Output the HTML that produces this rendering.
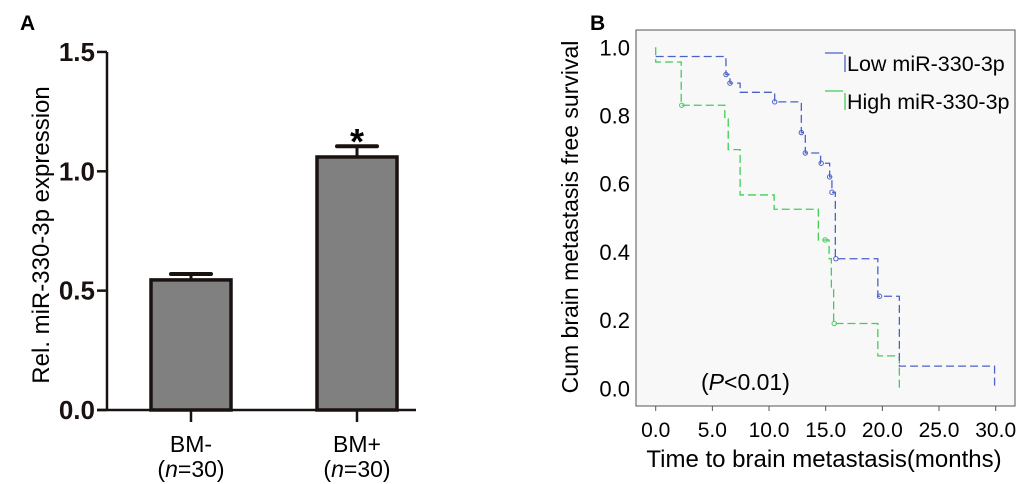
<!DOCTYPE html>
<html><head><meta charset="utf-8"><style>
body{margin:0;background:#fff;}
svg{display:block;font-family:"Liberation Sans",Arial,sans-serif;}
</style></head><body>
<svg id="fig" width="1020" height="484" viewBox="0 0 1020 484">
<text x="20" y="30" font-size="21" font-weight="bold">A</text>
<text x="590" y="30" font-size="21" font-weight="bold">B</text>
<g id="pa"></g>
<g id="pb"></g>
</svg>
<script>
const NS="http://www.w3.org/2000/svg";
// Panel A data
const barCats=["BM-","BM+"];
const barVals=[0.545,1.06];
const barErr=[0.025,0.045];
const barTicks=[0,0.5,1.0,1.5];
const barTickLabels=["0.0","0.5","1.0","1.5"];
// Panel B data
const lowStart=0.973;
const lowT=[6.2,6.55,7.45,10.5,12.85,13.2,14.55,15.35,15.55,15.85,19.6,21.5,29.9];
const lowS=[0.92,0.895,0.868,0.84,0.75,0.69,0.66,0.62,0.575,0.38,0.27,0.065,0.0];
const lowCensT=[6.2,6.55,10.5,12.85,13.2,14.6,15.35,15.55,15.9,19.75];
const lowCensS=[0.92,0.895,0.84,0.75,0.69,0.66,0.62,0.575,0.38,0.27];
const highStart=1.0;
const highT=[0,2.25,6.1,6.4,7.45,10.45,14.35,15.3,15.5,15.7,19.6,21.5];
const highS=[0.957,0.83,0.79,0.70,0.567,0.525,0.435,0.38,0.29,0.19,0.095,0.0];
const highCensT=[2.3,14.95,15.75];
const highCensS=[0.83,0.435,0.19];
const xTicks=[0,5,10,15,20,25,30];
const xTickLabels=["0.0","5.0","10.0","15.0","20.0","25.0","30.0"];
const yTicks=[0,0.2,0.4,0.6,0.8,1.0];
const yTickLabels=["0.0","0.2","0.4","0.6","0.8","1.0"];

function mk(tag,attrs,parent,text){const e=document.createElementNS(NS,tag);for(const k in attrs)e.setAttribute(k,attrs[k]);if(text!==undefined)e.textContent=text;parent.appendChild(e);return e;}

// Panel A
const pa=document.getElementById('pa');
const ay=v=>410-v*238.7;
const bx=[191,357];
let e;
e=mk('line',{x1:107,y1:52,x2:107,y2:410,stroke:'#1a1210','stroke-width':2.5},pa);


e=mk('line',{x1:97,y1:410,x2:416,y2:410,stroke:'#1a1210','stroke-width':2.5},pa);


barTicks.forEach((t,i)=>{
  mk('line',{x1:97,y1:ay(t),x2:107,y2:ay(t),stroke:'#1a1210','stroke-width':2.5},pa);
  e=mk('text',{x:95,y:ay(t)+9,'font-size':26,'font-weight':'bold','text-anchor':'end',fill:'#1a1210'},pa,barTickLabels[i]);
  
  
});
e=mk('text',{x:0,y:0,'font-size':24,'text-anchor':'middle',transform:'translate(49,235) rotate(-90)'},pa,'Rel. miR-330-3p expression');


barVals.forEach((v,i)=>{
  const cx=bx[i];
  e=mk('rect',{x:cx-40,y:ay(v),width:80,height:410-ay(v),fill:'#808080',stroke:'#1a1210','stroke-width':3.5},pa);
  
  
  const top=ay(v+barErr[i]);
  mk('line',{x1:cx,y1:ay(v),x2:cx,y2:top,stroke:'#1a1210','stroke-width':3},pa);
  e=mk('line',{x1:cx-20,y1:top,x2:cx+20,y2:top,stroke:'#1a1210','stroke-width':4,'stroke-linecap':'round'},pa);
  
  
  mk('line',{x1:cx,y1:410,x2:cx,y2:422,stroke:'#1a1210','stroke-width':2.5},pa);
  e=mk('text',{x:cx,y:452,'font-size':23,'text-anchor':'middle'},pa,barCats[i]);
  
  
  const t=mk('text',{x:cx,y:477,'font-size':23,'text-anchor':'middle'},pa);
  t.innerHTML='(<tspan font-style="italic">n</tspan>=30)';
});
e=mk('text',{x:bx[1],y:154,'font-size':36,'font-weight':'bold','text-anchor':'middle'},pa,'*');



// Panel B
const pb=document.getElementById('pb');
const sx=t=>655.7+t*11.333;
const sy=s=>388.3-s*341;
e=mk('rect',{x:636,y:30,width:379,height:376,fill:'#f8f8f8',stroke:'#555','stroke-width':1},pb);


yTicks.forEach((t,i)=>{
  e=mk('text',{x:630,y:sy(t)+8,'font-size':22,'text-anchor':'end'},pb,yTickLabels[i]);
  
  
});
xTicks.forEach((t,i)=>{
  mk('line',{x1:sx(t),y1:406,x2:sx(t),y2:411,stroke:'#555'},pb);
  e=mk('text',{x:sx(t),y:437,'font-size':21,'text-anchor':'middle'},pb,xTickLabels[i]);
  
  
});
e=mk('text',{x:0,y:0,'font-size':23,'text-anchor':'middle',transform:'translate(578,217) rotate(-90)'},pb,'Cum brain metastasis free survival');


e=mk('text',{x:824,y:467,'font-size':24,'text-anchor':'middle'},pb,'Time to brain metastasis(months)');


function km(start,T,S,col,name){
  let d='M'+sx(0)+','+sy(start);let prev=start;
  T.forEach((t,i)=>{d+=' L'+sx(t)+','+sy(prev)+' L'+sx(t)+','+sy(S[i]);prev=S[i];});
  const p=mk('path',{d:d,fill:'none',stroke:col,'stroke-width':1.3,'stroke-dasharray':'8,4'},pb);
  
  
}
function cens(T,S,col){T.forEach((t,i)=>{
  const c=mk('circle',{cx:sx(t),cy:sy(S[i]),r:2.2,fill:'none',stroke:col,'stroke-width':1},pb);
  
  
});}
km(highStart,highT,highS,'#3fcf55','high-mir-curve');
km(lowStart,lowT,lowS,'#4a62c8','low-mir-curve');
cens(highCensT,highCensS,'#3fcf55');
cens(lowCensT,lowCensS,'#4a62c8');
[['#4a62c8','Low miR-330-3p',53],['#3fcf55','High miR-330-3p',91]].forEach(([c,l,y])=>{
  mk('line',{x1:825,y1:y,x2:843,y2:y,stroke:c,'stroke-width':1.3},pb);
  mk('line',{x1:845,y1:y+2,x2:845,y2:y+19,stroke:c,'stroke-width':1.3},pb);
  const t=mk('text',{x:847,y:y+18,'font-size':21.5},pb,l);
  
  
});
e=mk('text',{x:701,y:390,'font-size':23},pb);
e.innerHTML='(<tspan font-style="italic">P</tspan>&lt;0.01)';


</script>
</body></html>
